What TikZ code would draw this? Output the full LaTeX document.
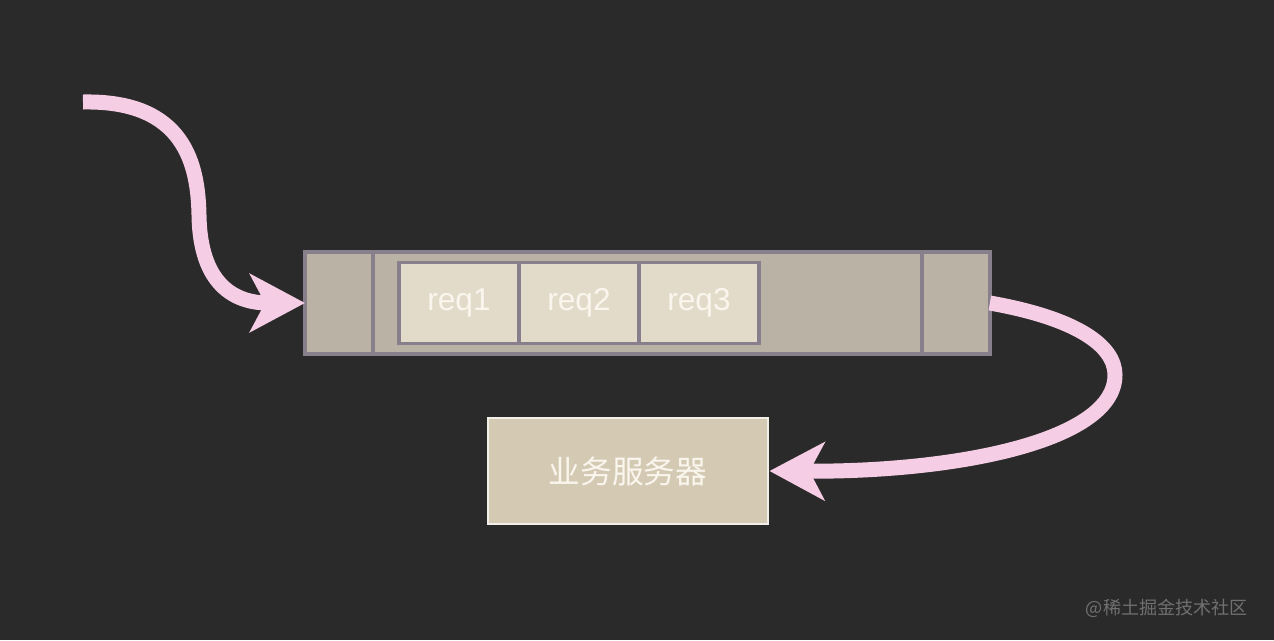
\documentclass[tikz,border=0pt]{standalone}
\usepackage{fontspec}
\setmainfont{Liberation Sans}
\newfontfamily\cjk{Noto Sans CJK SC}
\usepackage{tikz}
\usetikzlibrary{positioning,
                arrows.meta}
\definecolor{bgdark}{RGB}{43,42,42}
\definecolor{queuefill}{RGB}{185,178,165}
\definecolor{queueline}{RGB}{136,127,140}
\definecolor{reqfill}{RGB}{226,219,202}
\definecolor{serverfill}{RGB}{212,202,180}
\definecolor{serverline}{RGB}{242,238,232}
\definecolor{labelwhite}{RGB}{250,246,238}
\definecolor{flowpink}{RGB}{245,205,228}
\definecolor{markgray}{RGB}{112,112,112}

\begin{document}
\begin{tikzpicture}
       [x=0.02cm,y=-0.02cm,
        queuepart/.style={fill=queuefill,draw=queueline,line width=0.07cm,
                          shape=rectangle,minimum height=2.04cm,outer sep=0pt},
        reqcell/.style={fill=reqfill,draw=queueline,line width=0.07cm,
                        shape=rectangle,minimum width=2.4cm,minimum height=1.62cm,
                        outer sep=0pt,text=labelwhite,
                        font=\fontsize{18}{21}\selectfont},
        server/.style={fill=serverfill,draw=serverline,line width=0.04cm,
                       shape=rectangle,minimum width=5.62cm,minimum height=2.12cm,
                       text=labelwhite,font=\cjk\fontsize{18}{22}\selectfont},
        flow/.style={draw=flowpink,line width=0.3cm,
                     -{Stealth[length=1.1cm,width=1.16cm,inset=0.3cm]}}]
       \fill[bgdark] (0,0) rectangle (1274,640);
       \useasboundingbox (0,0) rectangle (1274,640);

       \node [queuepart,minimum width=1.36cm] (qleft) at (339,303) {};
       \node [queuepart,minimum width=10.98cm,right=0pt of qleft] (qmid) {};
       \node [queuepart,minimum width=1.36cm,right=0pt of qmid] (qright) {};

       \node [reqcell] (req1) at (459,303) {req1};
       \node [reqcell,right=0pt of req1] (req2) {req2};
       \node [reqcell,right=0pt of req2] (req3) {req3};

       \node [server] (biz) at (628,471) {业务服务器};

       \coordinate (client) at (83,102);
       \draw [flow] (client) .. controls (185,100) and (198,165) .. (199,215)
                    .. controls (200,285) and (235,303) .. (qleft.west);
       \draw [flow] (qright.east) .. controls (1075,318) and (1115,345) .. (1115,375)
                    .. controls (1115,440) and (960,472) .. (biz.east);

       \node [text=markgray,font=\cjk\fontsize{10.3}{12}\selectfont,anchor=east]
             (mark) at (1254,608) {@稀土掘金技术社区};
\end{tikzpicture}
\end{document}
